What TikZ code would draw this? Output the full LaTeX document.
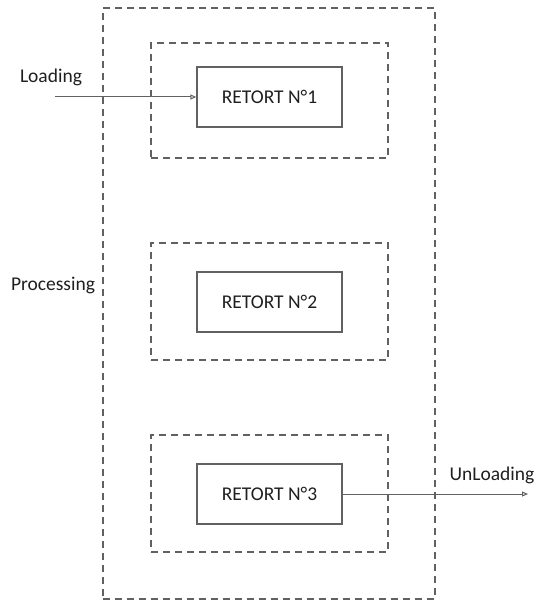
\documentclass[tikz,border=0pt]{standalone}
\usepackage{fontspec}
\setmainfont{Carlito}
\usetikzlibrary{arrows.meta,positioning}
\definecolor{linegray}{gray}{0.38}
\definecolor{textgray}{gray}{0.12}
\tikzset{
  zona/.style={draw=linegray,line width=1.1pt,dash pattern=on 7pt off 5pt,inner sep=0pt},
  retort/.style={draw=linegray,line width=1.3pt,minimum width=145pt,minimum height=60pt,
                 font=\fontsize{19.5}{22}\selectfont,text=textgray,inner sep=0pt},
  cimke/.style={font=\fontsize{19.5}{22}\selectfont,text=textgray,inner sep=0pt},
  nyil/.style={draw=linegray,line width=1pt,-{Triangle[open,length=6pt,width=5pt]}},
}
\begin{document}
\begin{tikzpicture}[x=1pt,y=-1pt]
  \useasboundingbox (0,0) rectangle (537,604);
  % kulso doboz
  \node[zona,minimum width=332pt,minimum height=591pt] (proc) at (269,303.5) {};
  % belso dobozok
  \node[zona,minimum width=237pt,minimum height=115pt] (z1) at (269.5,100.5) {};
  \node[zona,minimum width=237pt,minimum height=117pt] (z2) at (269.5,301.5) {};
  \node[zona,minimum width=237pt,minimum height=117pt] (z3) at (269.5,493.5) {};
  % retortak
  \node[retort] (r1) at (269.5,97) {RETORT N°1};
  \node[retort] (r2) at (269.5,302) {RETORT N°2};
  \node[retort] (r3) at (269.5,494) {RETORT N°3};
  % feliratok
  \node[cimke] (load) at (51,77) {Loading};
  \node[cimke] (procl) at (53,285) {Processing};
  \node[cimke] (unload) at (492,475) {UnLoading};
  \coordinate (be) at (55,97);
  \coordinate (ki) at (528,494);
  \draw[nyil] (be) -- (r1.west);
  \draw[nyil] (r3.east) -- (ki);
\end{tikzpicture}
\end{document}
